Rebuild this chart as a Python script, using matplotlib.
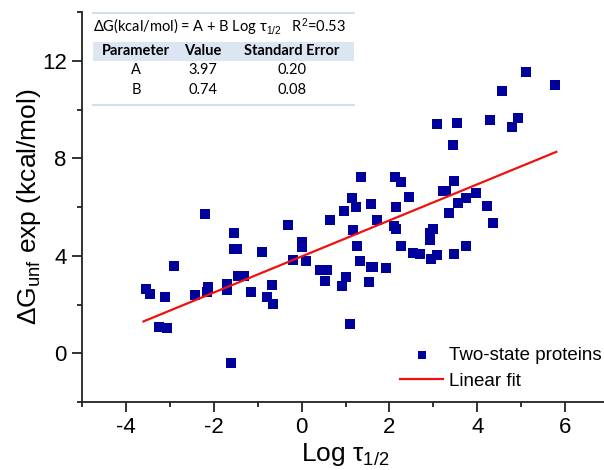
import numpy as np
import matplotlib
matplotlib.use("Agg")
import matplotlib.pyplot as plt
from matplotlib.ticker import MultipleLocator

plt.rcParams["font.family"] = ["Liberation Sans", "DejaVu Sans"]
plt.rcParams["mathtext.fontset"] = "custom"
plt.rcParams["mathtext.rm"] = "Liberation Sans"
plt.rcParams["mathtext.it"] = "Liberation Sans:italic"
plt.rcParams["axes.unicode_minus"] = False

# Log t1/2 vs dG_unf (two-state proteins)
log_t = [-3.55, -3.45, -3.24, -3.07, -3.11, -2.90, -2.42, -2.20, -2.16, -2.12,
         -1.69, -1.69, -1.60, -1.55, -1.55, -1.46, -1.45, -1.30, -1.16, -0.90,
         -0.78, -0.68, -0.64, -0.31, -0.20, 0.02, 0.02, 0.10, 0.43, 0.58,
         0.53, 0.65, 0.96, 0.92, 1.02, 1.11, 1.14, 1.18, 1.23, 1.27,
         1.32, 1.35, 1.53, 1.57, 1.63, 1.58, 1.71, 1.92, 2.10, 2.14,
         2.13, 2.27, 2.14, 2.27, 2.45, 2.54, 2.70, 2.93, 2.93, 2.99,
         2.95, 3.08, 3.09, 3.23, 3.29, 3.35, 3.44, 3.48, 3.48, 3.54,
         3.57, 3.74, 3.75, 3.97, 4.22, 4.30, 4.36, 4.57, 4.79, 4.92,
         5.10, 5.78]
dg_unf = [2.62, 2.43, 1.08, 1.02, 2.32, 3.57, 2.38, 5.70, 2.51, 2.72,
          2.83, 2.58, -0.40, 4.93, 4.27, 4.27, 3.16, 3.16, 2.50, 4.15,
          2.32, 2.79, 2.02, 5.25, 3.84, 4.56, 4.36, 3.78, 3.40, 3.40,
          2.95, 5.45, 5.84, 2.75, 3.12, 1.20, 6.35, 5.07, 6.00, 4.40,
          3.79, 7.23, 2.93, 3.52, 3.52, 6.11, 5.45, 3.51, 5.22, 5.11,
          7.25, 7.02, 6.00, 4.40, 6.39, 4.12, 4.08, 4.93, 4.63, 5.11,
          3.85, 4.02, 9.41, 6.65, 6.65, 5.75, 8.54, 7.07, 4.06, 9.45,
          6.16, 4.40, 6.37, 6.58, 6.04, 9.55, 5.34, 10.77, 9.30, 9.66,
          11.53, 11.02]

# fit parameters
params = ["A", "B"]
values = [3.97, 0.74]
errors = [0.20, 0.08]
r2 = 0.53
fit_range = [-3.6, 5.8]

fig = plt.figure(figsize=(6.04, 4.70), dpi=100)
W, H = 604, 470
ax = fig.add_axes([82 / W, 68 / H, 527 / W, 390 / H])

ax.scatter(log_t, dg_unf, marker="s", s=44, color="#00009c", linewidths=0,
           label="Two-state proteins", zorder=3)
xf = np.array(fit_range)
ax.plot(xf, values[0] + values[1] * xf, color="#f01010", lw=1.6,
        label="Linear fit", zorder=4)

ax.set_xlim(-5, 7)
ax.set_ylim(-2, 14)
ax.xaxis.set_minor_locator(MultipleLocator(1))
ax.set_xticks([-4, -2, 0, 2, 4, 6])
ax.yaxis.set_minor_locator(MultipleLocator(2))
ax.set_yticks([0, 4, 8, 12])
for s in ["top", "right"]:
    ax.spines[s].set_visible(False)
for s in ["left", "bottom"]:
    ax.spines[s].set_linewidth(1.3)
    ax.spines[s].set_color("#222222")
ax.tick_params(which="major", direction="out", length=7, width=1.3,
               labelsize=16, color="#222222", pad=4)
ax.tick_params(which="minor", direction="out", length=3.5, width=1.3,
               color="#222222")

ax.set_xlabel("Log τ$_{\\rm 1/2}$", fontsize=19, labelpad=2)
ax.set_ylabel("ΔG$_{\\rm unf}$ exp (kcal/mol)", fontsize=19, labelpad=-1)

leg = fig.legend(loc="upper left", bbox_to_anchor=(400 / W, 1 - 347 / H),
                 frameon=False, fontsize=13.5, handlelength=2.3,
                 handletextpad=0.3, labelspacing=0.45, borderpad=0,
                 borderaxespad=0, markerscale=0.8)

# parameter table in the upper left
x0, x1 = 92.7 / W, 354 / W
line_c = "#c6d9f0"
fig.add_artist(plt.Line2D([x0, x1], [1 - 12.7 / H] * 2, color=line_c, lw=1.2))
fig.add_artist(plt.Line2D([x0, x1], [1 - 105 / H] * 2, color=line_c, lw=1.2))
fig.add_artist(plt.Rectangle((x0, 1 - 61 / H), x1 - x0, 19 / H,
                             color="#dce6f2", lw=0))
tfont = ["Lato", "DejaVu Sans"]
fig.text(93 / W, 1 - 27 / H,
         "ΔG(kcal/mol) = A + B Log τ$_{\\rm 1/2}$   R$^{\\rm 2}$=0.53",
         fontsize=10.5, family=tfont, va="center", ha="left")
cols = [136 / W, 203 / W, 292 / W]
for cx, lab in zip(cols, ["Parameter", "Value", "Standard Error"]):
    fig.text(cx, 1 - 51 / H, lab, fontsize=10.5, family=tfont,
             weight="bold", ha="center", va="center")
for i, (p, v, e) in enumerate(zip(params, values, errors)):
    yy = 1 - (70 + i * 20.5) / H
    fig.text(cols[0], yy, p, fontsize=10.5, family=tfont, ha="center", va="center")
    fig.text(cols[1], yy, f"{v:.2f}", fontsize=10.5, family=tfont, ha="center", va="center")
    fig.text(cols[2], yy, f"{e:.2f}", fontsize=10.5, family=tfont, ha="center", va="center")

fig.savefig("out.png", dpi=100)
